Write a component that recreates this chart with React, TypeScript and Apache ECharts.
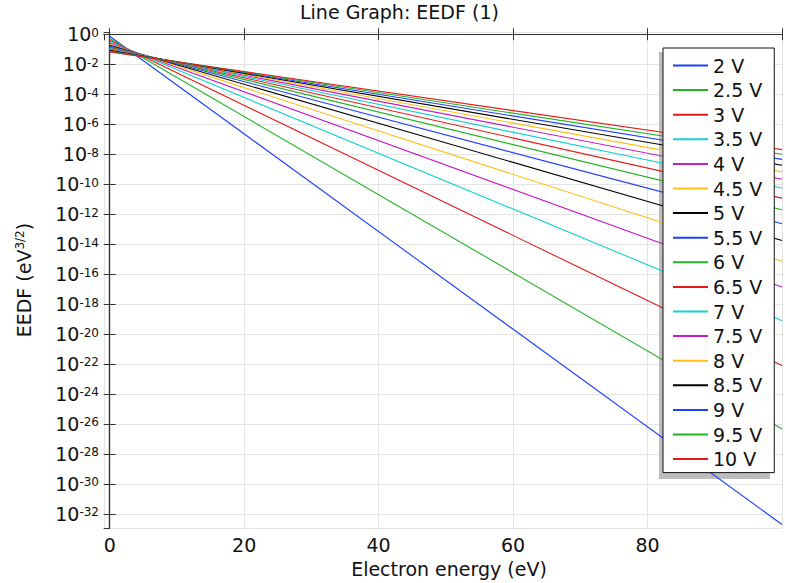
import React, { useEffect, useRef } from 'react';
import * as echarts from 'echarts';

// Legend / series names (mean electron energy)
const seriesNames = ['2 V', '2.5 V', '3 V', '3.5 V', '4 V', '4.5 V', '5 V', '5.5 V', '6 V', '6.5 V', '7 V', '7.5 V', '8 V', '8.5 V', '9 V', '9.5 V', '10 V'];
// Electron energy (eV) at which each straight (log-scale) line was read
const energyPoints = [0, 100];
// EEDF (eV^-3/2) read at 0 eV and at 100 eV for each curve
const eedfAtStart = [0.733, 0.525, 0.399, 0.317, 0.259, 0.217, 0.185, 0.161, 0.141, 0.125, 0.112, 0.101, 0.0916, 0.0837, 0.0767, 0.0708, 0.0656];
const eedfAtEnd = [1.95e-33, 4.6e-27, 7.8e-23, 7.8e-20, 1.35e-17, 7.2e-16, 1.74e-14, 2.3e-13, 1.95e-12, 1.17e-11, 5.5e-11, 2.1e-10, 6.6e-10, 1.8e-9, 4.5e-9, 9.8e-9, 2.0e-8];
// Tick labels
const xTickLabels = [0, 20, 40, 60, 80];
const yTickExponents = [0, -2, -4, -6, -8, -10, -12, -14, -16, -18, -20, -22, -24, -26, -28, -30, -32];

const palette = ['#1f3fff', '#22b422', '#e41a1a', '#12d2d2', '#c61cc6', '#ffbf12', '#000000'];

const FONT = 'DejaVu Sans';

export default function App() {
  const ref = useRef<HTMLDivElement>(null);
  useEffect(() => {
    if (!ref.current) return;
    const chart = echarts.init(ref.current, null, { renderer: 'svg' });
    const series = seriesNames.map((name, i) => ({
      name,
      type: 'line',
      xAxisIndex: 0,
      yAxisIndex: 0,
      symbol: 'none',
      clip: true,
      lineStyle: { width: 1.1, color: palette[i % palette.length] },
      itemStyle: { color: palette[i % palette.length] },
      data: [
        [energyPoints[0], Math.log10(eedfAtStart[i])],
        [energyPoints[1], Math.log10(eedfAtEnd[i])],
      ],
    }));
    const axisLineStyle = { color: '#333', width: 1.2 };
    const tickStyle = { show: true, inside: true, length: 6, lineStyle: { color: '#333', width: 1 } };
    const xMin = -0.85, xMax = 100, yMin = -32.95, yMax = 0.15;
    chart.setOption({
      animation: false,
      textStyle: { fontFamily: FONT },
      title: {
        text: 'Line Graph: EEDF (1)',
        left: 300,
        top: 2,
        padding: 0,
        textStyle: { fontFamily: FONT, fontSize: 19, fontWeight: 'normal', color: '#111' },
      },
      grid: { left: 104, top: 32, right: -1, bottom: 49, containLabel: false },
      xAxis: [
        {
          type: 'value',
          min: xMin,
          max: xMax,
          minInterval: 20,
          maxInterval: 20,
          splitNumber: 5,
          name: 'Electron energy (eV)',
          nameLocation: 'middle',
          nameGap: 26,
          nameTextStyle: { fontFamily: FONT, fontSize: 19, color: '#111', padding: [0, 0, 0, 12] },
          axisLine: { show: true, lineStyle: axisLineStyle },
          axisTick: tickStyle,
          axisLabel: {
            show: true,
            margin: 7,
            fontFamily: FONT,
            fontSize: 19,
            color: '#111',
            showMinLabel: false,
            formatter: (v: number) => (xTickLabels.includes(v) ? String(v) : ''),
          },
          splitLine: { show: true, lineStyle: { color: '#e4e4e4', width: 1 } },
        },
        {
          type: 'value',
          position: 'top',
          min: xMin,
          max: xMax,
          minInterval: 20,
          maxInterval: 20,
          splitNumber: 5,
          axisLine: { show: true, lineStyle: axisLineStyle },
          axisTick: tickStyle,
          axisLabel: { show: false },
          splitLine: { show: false },
        },
      ],
      yAxis: [
        {
          type: 'value',
          min: yMin,
          max: yMax,
          minInterval: 2,
          maxInterval: 2,
          splitNumber: 16,
          name: '{a|EEDF (eV}{s|3/2}{a|)}',
          nameLocation: 'middle',
          nameRotate: 90,
          nameGap: 71,
          nameTextStyle: {
            fontFamily: FONT,
            color: '#111',
            rich: {
              a: { fontFamily: FONT, fontSize: 19, color: '#111', verticalAlign: 'bottom', padding: [6, 0, 0, 0], lineHeight: 19 },
              s: { fontFamily: FONT, fontSize: 12, color: '#111', verticalAlign: 'top', lineHeight: 12 },
            },
          },
          axisLine: { show: true, lineStyle: axisLineStyle },
          axisTick: tickStyle,
          axisLabel: {
            show: true,
            margin: 5,
            showMinLabel: false,
            showMaxLabel: false,
            formatter: (v: number) => {
              const e = Math.round(v);
              if (Math.abs(v - e) > 1e-6 || !yTickExponents.includes(e)) return '';
              const sup = e === 0 ? '0' : '-' + String(-e);
              return `{b|10}{s|${sup}}`;
            },
            rich: {
              b: { fontFamily: FONT, fontSize: 19, color: '#111', verticalAlign: 'bottom', padding: [6, 0, 0, 0], lineHeight: 19 },
              s: { fontFamily: FONT, fontSize: 12, color: '#111', verticalAlign: 'top', padding: [2, 0, 0, 0], lineHeight: 12 },
            },
          },
          splitLine: { show: true, lineStyle: { color: '#e4e4e4', width: 1 } },
        },
        {
          type: 'value',
          position: 'right',
          min: yMin,
          max: yMax,
          minInterval: 2,
          maxInterval: 2,
          splitNumber: 16,
          axisLine: { show: true, lineStyle: axisLineStyle },
          axisTick: tickStyle,
          axisLabel: { show: false },
          splitLine: { show: false },
        },
      ],
      legend: {
        data: seriesNames,
        orient: 'vertical',
        left: 663,
        top: 48,
        padding: [8, 12, 4, 10],
        backgroundColor: '#ffffff',
        borderColor: '#111',
        borderWidth: 1,
        borderRadius: 0,
        icon: 'rect',
        itemWidth: 35,
        itemHeight: 2,
        itemGap: 5.6,
        textStyle: { fontFamily: FONT, fontSize: 19, color: '#111', lineHeight: 18 },
        z: 5,
      },
      graphic: {
        elements: [
          {
            type: 'rect',
            z: 3,
            silent: true,
            shape: { x: 659, y: 52, width: 111, height: 427 },
            style: { fill: '#bdbdbd' },
          },
        ],
      },
      series,
    });
    return () => chart.dispose();
  }, []);
  return <div ref={ref} style={{ position: 'absolute', left: 0, top: 0, width: 785, height: 583 }} />;
}
